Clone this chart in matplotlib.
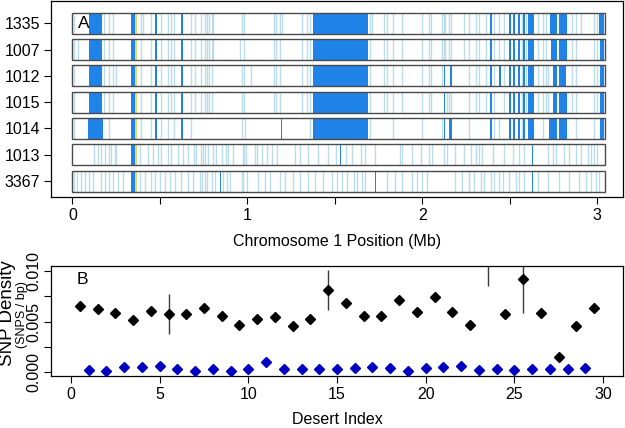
import matplotlib
matplotlib.use("Agg")
import matplotlib.pyplot as plt
from matplotlib.patches import Rectangle

plt.rcParams['font.family'] = ['Liberation Sans', 'DejaVu Sans']

# ---------------- Panel A data ----------------
samples = ['1335', '1007', '1012', '1015', '1014', '1013', '3367']
chrom_len = 3.046
yellow_band = (0.356, 0.369)

block_common = [(2.495, 2.509), (2.521, 2.532), (2.549, 2.561), (2.578, 2.586), (2.603, 2.639)]

dark_1335 = [(0.093, 0.171), (0.333, 0.356), (0.474, 0.485), (0.619, 0.634), (1.374, 1.690),
             (2.389, 2.397)] + block_common + [(2.731, 2.773), (2.784, 2.826), (3.012, 3.042)]
dark_1007 = [(0.093, 0.171), (0.333, 0.356), (0.474, 0.485), (0.619, 0.634), (1.374, 1.690),
             (2.389, 2.397)] + block_common + [(2.735, 2.773), (2.784, 2.826), (3.015, 3.042)]
dark_1012 = [(0.093, 0.171), (0.333, 0.356), (0.474, 0.485), (0.619, 0.634), (1.374, 1.690),
             (2.125, 2.132), (2.161, 2.170), (2.389, 2.397), (2.441, 2.449)] + block_common + \
            [(2.750, 2.773), (2.784, 2.821), (3.015, 3.042)]
dark_1015 = [(0.093, 0.171), (0.333, 0.356), (0.474, 0.485), (0.619, 0.634), (1.374, 1.690),
             (2.125, 2.132), (2.389, 2.397)] + block_common + \
            [(2.750, 2.773), (2.784, 2.826), (3.015, 3.042)]
dark_1014 = [(0.087, 0.173), (0.333, 0.356), (0.474, 0.485), (0.619, 0.634), (1.194, 1.200),
             (1.374, 1.690), (2.125, 2.132), (2.155, 2.170), (2.389, 2.397)] + block_common + \
            [(2.727, 2.773), (2.784, 2.826), (3.015, 3.042)]
dark_1013 = [(0.333, 0.356), (1.530, 1.537), (2.628, 2.635)]
dark_3367 = [(0.333, 0.356), (0.844, 0.851), (1.728, 1.735), (2.628, 2.635)]

light_1335 = [0.009, 0.180, 0.211, 0.234, 0.390, 0.405, 0.451, 0.508, 0.547, 0.566, 0.581, 0.676,
              0.699, 0.734, 0.756, 0.768, 0.783, 0.796, 0.806, 0.968, 0.983, 1.153, 1.164, 1.187,
              1.197, 1.311, 1.343, 1.359, 1.703, 1.713, 1.780, 1.799, 1.831, 1.884, 1.999, 2.037,
              2.052, 2.113, 2.123, 2.132, 2.151, 2.166, 2.237, 2.269, 2.308, 2.323, 2.365, 2.412,
              2.441, 2.469, 2.571, 2.593, 2.660, 2.692, 2.708, 2.857, 2.880, 2.908, 2.984, 2.998]
light_1007 = [0.009, 0.030, 0.180, 0.211, 0.234, 0.390, 0.451, 0.508, 0.547, 0.566, 0.581, 0.676,
              0.699, 0.734, 0.756, 0.768, 0.783, 0.796, 0.806, 0.960, 0.983, 1.153, 1.164, 1.187,
              1.311, 1.343, 1.359, 1.703, 1.780, 1.799, 1.831, 1.884, 1.999, 2.037, 2.052, 2.113,
              2.123, 2.132, 2.151, 2.166, 2.237, 2.269, 2.308, 2.323, 2.365, 2.412, 2.441, 2.469,
              2.571, 2.593, 2.660, 2.692, 2.708, 2.857, 2.880, 2.984, 2.998]
light_1012 = [0.009, 0.180, 0.211, 0.234, 0.250, 0.390, 0.451, 0.508, 0.547, 0.566, 0.581, 0.676,
              0.699, 0.734, 0.756, 0.768, 0.783, 0.796, 0.968, 0.983, 1.020, 1.153, 1.164, 1.187,
              1.311, 1.343, 1.359, 1.703, 1.780, 1.799, 1.831, 1.884, 1.999, 2.037, 2.052, 2.113,
              2.269, 2.308, 2.323, 2.365, 2.412, 2.469, 2.571, 2.593, 2.660, 2.692, 2.708, 2.720,
              2.857, 2.880, 2.984, 2.998]
light_1015 = [0.009, 0.180, 0.211, 0.234, 0.390, 0.451, 0.508, 0.547, 0.566, 0.581, 0.676, 0.699,
              0.734, 0.756, 0.768, 0.783, 0.796, 0.968, 0.983, 1.153, 1.164, 1.187, 1.311, 1.343,
              1.359, 1.703, 1.780, 1.799, 1.831, 1.884, 1.999, 2.037, 2.052, 2.140, 2.151, 2.166,
              2.269, 2.308, 2.323, 2.365, 2.412, 2.469, 2.571, 2.593, 2.660, 2.692, 2.708, 2.720,
              2.857, 2.880, 2.984, 2.998]
light_1014 = [0.009, 0.211, 0.390, 0.451, 0.508, 0.547, 0.581, 0.676, 0.968, 0.987, 1.359, 1.703,
              1.831, 1.999, 2.113, 2.269, 2.412, 2.441, 2.571, 2.692, 2.880, 2.984]
light_1013 = [0.123, 0.146, 0.165, 0.188, 0.207, 0.219, 0.242, 0.251, 0.385, 0.432, 0.461, 0.489,
              0.508, 0.547, 0.566, 0.604, 0.632, 0.661, 0.695, 0.709, 0.737, 0.760, 0.749, 0.777,
              0.806, 0.821, 0.854, 0.878, 0.891, 0.920, 0.974, 0.981, 0.993, 1.044, 1.057, 1.082,
              1.111, 1.140, 1.168, 1.273, 1.301, 1.349, 1.406, 1.463, 1.507, 1.564, 1.599, 1.652,
              1.675, 1.732, 1.875, 1.885, 1.942, 1.995, 2.037, 2.056, 2.123, 2.142, 2.190, 2.237,
              2.279, 2.308, 2.323, 2.342, 2.403, 2.469, 2.517, 2.555, 2.584, 2.718, 2.746, 2.765,
              2.813, 2.841, 2.880, 2.908, 2.946, 2.965, 2.984, 2.998]
light_3367 = [0.009, 0.028, 0.051, 0.074, 0.093, 0.118, 0.162, 0.185, 0.207, 0.232, 0.261, 0.289,
              0.385, 0.417, 0.451, 0.474, 0.499, 0.528, 0.556, 0.585, 0.623, 0.661, 0.690, 0.728,
              0.756, 0.739, 0.768, 0.796, 0.815, 0.863, 0.882, 0.901, 0.968, 0.977, 0.997, 1.063,
              1.101, 1.130, 1.187, 1.216, 1.263, 1.301, 1.349, 1.387, 1.435, 1.483, 1.513, 1.541,
              1.570, 1.608, 1.627, 1.656, 1.675, 1.799, 1.846, 1.884, 1.942, 1.970, 1.999, 2.027,
              2.190, 2.228, 2.266, 2.269, 2.298, 2.336, 2.355, 2.393, 2.412, 2.441, 2.460, 2.498,
              2.536, 2.555, 2.584, 2.660, 2.718, 2.784, 2.841, 2.898, 2.937, 2.965, 2.994, 3.013]

dark_blocks = [dark_1335, dark_1007, dark_1012, dark_1015, dark_1014, dark_1013, dark_3367]
light_lines = [light_1335, light_1007, light_1012, light_1015, light_1014, light_1013, light_3367]

# ---------------- Panel B data ----------------
desert_x = [0.5, 1.5, 2.5, 3.5, 4.5, 5.5, 6.5, 7.5, 8.5, 9.5, 10.5, 11.5, 12.5, 13.5, 14.5,
            15.5, 16.5, 17.5, 18.5, 19.5, 20.5, 21.5, 22.5, 23.5, 24.5, 25.5, 26.5, 27.5, 28.5, 29.5]
desert_density = [0.00656, 0.00620, 0.00581, 0.00512, 0.00607, 0.00574, 0.00574, 0.00630, 0.00554,
                  0.00465, 0.00521, 0.00548, 0.00455, 0.00521, 0.00812, 0.00686, 0.00554, 0.00551,
                  0.00713, 0.00591, 0.00743, 0.00594, 0.00469, 0.01180, 0.00571, 0.00918, 0.00587,
                  0.00145, 0.00455, 0.00630]
desert_err = [0.0005, 0.0002, 0.0002, 0.0003, 0.0002, 0.0020, 0.0002, 0.0002, 0.0002, 0.0003,
              0.0002, 0.0002, 0.0002, 0.0003, 0.00195, 0.0002, 0.0002, 0.0003, 0.0004, 0.0002,
              0.0005, 0.0002, 0.0002, 0.00325, 0.0002, 0.00337, 0.0002, 0.0002, 0.0002, 0.0002]
bg_x = list(range(1, 30))
bg_density = [0.00017, 0.00013, 0.00050, 0.00046, 0.00063, 0.00033, 0.00013, 0.00026, 0.00013,
              0.00030, 0.00096, 0.00033, 0.00033, 0.00026, 0.00030, 0.00040, 0.00053, 0.00040,
              0.00013, 0.00040, 0.00046, 0.00063, 0.00017, 0.00026, 0.00023, 0.00026, 0.00033,
              0.00033, 0.00036]

DARK = '#1F83E8'
LIGHT = '#BBDCE8'
YELLOW = '#E2DA66'
FS = 11.5

fig = plt.figure(figsize=(6.25, 4.28), dpi=100)
W, H = 625, 428

def ax_rect(l, t, r, b):
    return [l / W, 1 - b / H, (r - l) / W, (b - t) / H]

# ---------------- Panel A ----------------
axA = fig.add_axes(ax_rect(51, 1, 623, 197))
n = len(samples)
half = 0.40
for i, (name, blocks, lines) in enumerate(zip(samples, dark_blocks, light_lines)):
    yc = n - i
    axA.add_patch(Rectangle((0, yc - half), chrom_len, 2 * half, facecolor='white',
                            edgecolor='none', zorder=1))
    axA.vlines(lines, yc - half, yc + half, colors=LIGHT, linewidth=1.0, zorder=2)
    axA.broken_barh([(s, e - s) for s, e in blocks], (yc - half, 2 * half),
                    facecolors=DARK, edgecolor='none', zorder=3)
    axA.broken_barh([(yellow_band[0], yellow_band[1] - yellow_band[0])], (yc - half, 2 * half),
                    facecolors=YELLOW, edgecolor='none', zorder=3)
    axA.add_patch(Rectangle((0, yc - half), chrom_len, 2 * half, facecolor='none',
                            edgecolor='#4a4a4a', linewidth=1.0, zorder=4))

axA.set_xlim(-0.122, 3.148)
axA.set_ylim(0.392, 7.848)
axA.set_yticks([n - i for i in range(n)])
axA.set_yticklabels(samples)
axA.set_xticks([0, 0.5, 1, 1.5, 2, 2.5, 3])
axA.set_xticklabels(['0', '', '1', '', '2', '', '3'])
axA.tick_params(axis='both', direction='out', length=5, width=0.8, labelsize=FS, pad=3)
for sp in axA.spines.values():
    sp.set_linewidth(0.9)
axA.set_xlabel('Chromosome 1 Position (Mb)', fontsize=FS, labelpad=8)
axA.text(0.035, n, 'A', fontsize=12.5, ha='left', va='center', zorder=5)

# ---------------- Panel B ----------------
axB = fig.add_axes(ax_rect(51, 266, 623, 376))
axB.errorbar(desert_x, desert_density, yerr=desert_err, fmt='none', ecolor='#3a3a3a',
             elinewidth=1.0, capsize=0, zorder=2)
axB.plot(desert_x, desert_density, linestyle='none', marker='D', markersize=4.6,
         color='black', zorder=3)
axB.plot(bg_x, bg_density, linestyle='none', marker='D', markersize=4.6,
         color='#0000C0', zorder=3)
axB.set_xlim(-1.13, 31.13)
axB.set_ylim(-0.0004, 0.0105)
axB.set_xticks([0, 5, 10, 15, 20, 25, 30])
axB.set_yticks([0, 0.0025, 0.005, 0.0075, 0.01])
axB.set_yticklabels(['0.000', '', '0.005', '', '0.010'], rotation=90, va='center')
axB.tick_params(axis='both', direction='out', length=5, width=0.8, labelsize=FS, pad=3)
axB.tick_params(axis='y', pad=2)
for sp in axB.spines.values():
    sp.set_linewidth(0.9)
axB.set_xlabel('Desert Index', fontsize=FS, labelpad=7)
axB.text(0.3, 0.0092, 'B', fontsize=12.5, ha='left', va='center')
fig.text(7.5 / W, 1 - 313 / H, 'SNP Density', rotation=90, ha='center', va='center', fontsize=13.5)
fig.text(21.5 / W, 1 - 315 / H, '(SNPS / bp)', rotation=90, ha='center', va='center', fontsize=9)

fig.savefig('out.png', dpi=100)
